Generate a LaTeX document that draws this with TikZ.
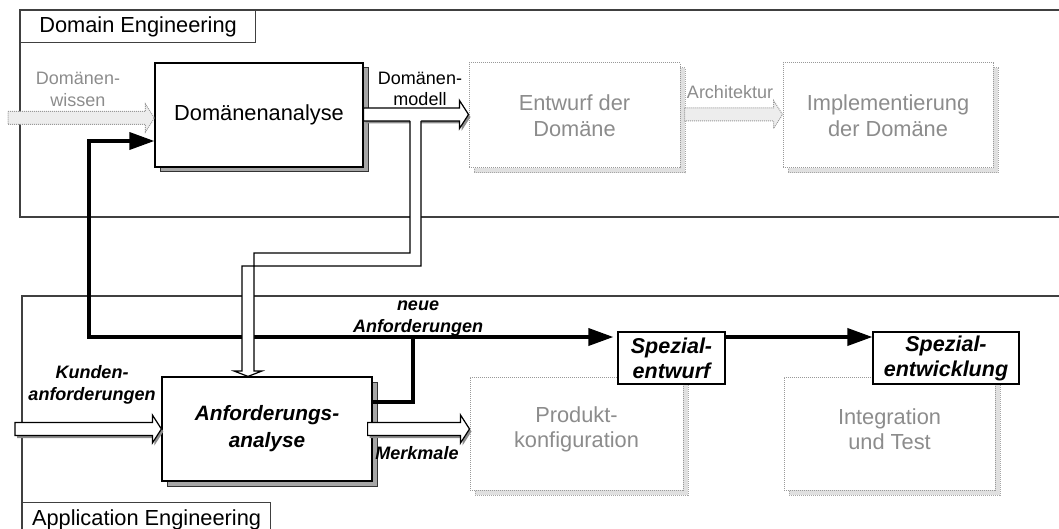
\documentclass[tikz,border=0pt]{standalone}
\usepackage{fontspec}
\setmainfont{Liberation Sans}
\usetikzlibrary{arrows.meta,calc,shadows}

% horizontal block arrow, pointing right: #1 style, #2 start, #3 tip, #4/#5 offset
\newcommand\blockarrowpath[5]{%
  \path[#1] ($(#2)+(#4,#5-6.5)$) -- ($(#3)+(#4-9,#5-6.5)$) -- ($(#3)+(#4-9,#5-14)$)
    -- ($(#3)+(#4,#5)$) -- ($(#3)+(#4-9,#5+14)$) -- ($(#3)+(#4-9,#5+6.5)$)
    -- ($(#2)+(#4,#5+6.5)$) -- cycle;}
\newcommand\blockarrow[3]{%
  \blockarrowpath{fill=black!45}{#2}{#3}{2}{2.5}%
  \blockarrowpath{#1}{#2}{#3}{0}{0}}

\begin{document}
\begin{tikzpicture}[x=1pt,y=-1pt,
  bigfont/.style={font=\fontsize{21.8}{25.5}\selectfont},
  labfont/.style={font=\fontsize{18}{22}\selectfont\bfseries\itshape},
  frameline/.style={draw=black!75,line width=1.3pt},
  framelabel/.style={draw=black!75,line width=1.1pt,fill=white,anchor=north west,
    inner xsep=0pt,inner ysep=0pt,align=center,font=\fontsize{21.8}{25}\selectfont},
  mainbox/.style={draw=black,line width=1.2pt,fill=white,bigfont,align=center,
    copy shadow={shadow xshift=5pt,shadow yshift=-5pt,fill=black!35,draw=black!80,line width=1pt}},
  fadebox/.style={draw=black!40,densely dotted,line width=1pt,fill=white,bigfont,
    text=black!45,align=center,
    copy shadow={shadow xshift=5pt,shadow yshift=-5pt,fill=black!12,draw=black!35,densely dotted,line width=1pt}},
  specbox/.style={draw=black,line width=1.2pt,fill=white,align=center,
    font=\fontsize{21.5}{25}\selectfont\bfseries\itshape,inner sep=0pt},
  hollow/.style={draw=black,line width=1.2pt,fill=white,line join=miter},
  fadearrow/.style={draw=black!40,densely dotted,line width=1pt,fill=black!7},
  flow/.style={line width=3.6pt,-{Triangle[length=25pt,width=17pt]}},
  pipefill/.style={fill=white},
  pipeline/.style={draw=black,line width=1.2pt}]

\useasboundingbox (0,0) rectangle (1059,529);

% ---------- frames ----------
\draw[frameline] (1059,10) -- (20,10) -- (20,217) -- (1059,217);
\draw[frameline] (1059,296) -- (22,296) -- (22,535);
\node[framelabel,minimum width=235pt,minimum height=32pt] (dlabel) at (20,10) {Domain Engineering};
\node[framelabel,minimum width=248pt,minimum height=34pt] (alabel) at (22,502) {Application Engineering};

% ---------- faded process steps ----------
\node[fadebox,minimum width=211pt,minimum height=105pt] (ent) at (574.5,115.5) {Entwurf der\\Domäne};
\node[fadebox,minimum width=210pt,minimum height=105pt] (impl) at (888,115.5) {Implementierung\\der Domäne};
\node[fadebox,minimum width=213pt,minimum height=113pt] (prod) at (576.5,433.5) {Produkt-\\konfiguration\\[-13pt]};
\node[fadebox,minimum width=211pt,minimum height=113pt] (integ) at (889.5,433.5) {Integration\\und Test\\[-17pt]};

\coordinate (wissenS) at (8,118);
\coordinate (archS) at ($(ent.east)+(4,-1)$);

% ---------- main process steps ----------
\node[mainbox,minimum width=208pt,minimum height=104pt] (dana) at (259,115) {Domänenanalyse};
\node[mainbox,minimum width=210pt,minimum height=104pt,
  font=\fontsize{20.8}{27}\selectfont\bfseries\itshape] (anr) at (267,429) {Anforderungs-\\analyse};

% faded block arrows
\coordinate (wissenE) at (dana.west |- wissenS);
\blockarrowpath{fadearrow}{wissenS}{wissenE}{0}{0}
\coordinate (archE) at (impl.west |- archS);
\blockarrowpath{fadearrow}{archS}{archE}{0}{0}

% ---------- block arrows ----------
\coordinate (modS) at ($(dana.east)+(0,-0.5)$);
\coordinate (modE) at (ent.west |- modS);
\blockarrow{hollow}{modS}{modE}
\coordinate (kundS) at (15,429);
\blockarrow{hollow}{kundS}{anr.west}
\coordinate (merkS) at ($(anr.east)+(-5,0)$);
\coordinate (merkE) at (prod.west |- merkS);
\blockarrow{hollow}{merkS}{merkE}

% ---------- new requirements (thick lines) ----------
\node[specbox,minimum width=107pt,minimum height=52pt] (se1) at (671.5,358) {Spezial-\\entwurf};
\node[specbox,minimum width=146pt,minimum height=52pt] (se2) at (946,358) {Spezial-\\entwicklung};

\coordinate (junc) at (413,337);
\coordinate (bend) at (89,337);
\coordinate (danaIn) at ($(dana.west)+(0,26)$);
\draw[line width=3.6pt] ($(anr.east)+(0,-27)$) -| (junc);
\draw[flow] (junc) -- (bend) |- (danaIn);
\draw[flow] (junc) -- ($(se1.west |- junc)+(-4,0)$);
\draw[flow] (se1.east |- junc) -- (se2.west |- junc);

% ---------- domain model pipe into requirements analysis ----------
\coordinate (pipeTip) at ($(anr.north)+(-19,0)$);
\fill[pipefill] (410,119.5) -- (410,253) -- (254,253) -- (254,371) -- (262,371)
  -- (pipeTip) -- (234,371) -- (242,371) -- (242,266) -- (421,266) -- (421,119.5) -- cycle;
\draw[pipeline,line join=miter] (421,121) -- (421,266) -- (242,266) -- (242,371) -- (234,371)
  -- (pipeTip) -- (262,371) -- (254,371) -- (254,253) -- (410,253) -- (410,121);

% ---------- labels ----------
\node[font=\fontsize{18}{22}\selectfont,text=black!45,align=center] (lwissen) at (78,89) {Domänen-\\wissen};
\node[font=\fontsize{18}{21}\selectfont,align=center] (lmodell) at (420,89) {Domänen-\\modell};
\node[font=\fontsize{18}{22}\selectfont,text=black!45] (larch) at (730,92) {Architektur};
\node[labfont,align=center] (lneu) at (418,319) {neue\\Anforderungen};
\node[labfont,align=center] (lkunde) at (92,385) {Kunden-\\anforderungen};
\node[labfont] (lmerk) at (417,453) {Merkmale};

\end{tikzpicture}
\end{document}
